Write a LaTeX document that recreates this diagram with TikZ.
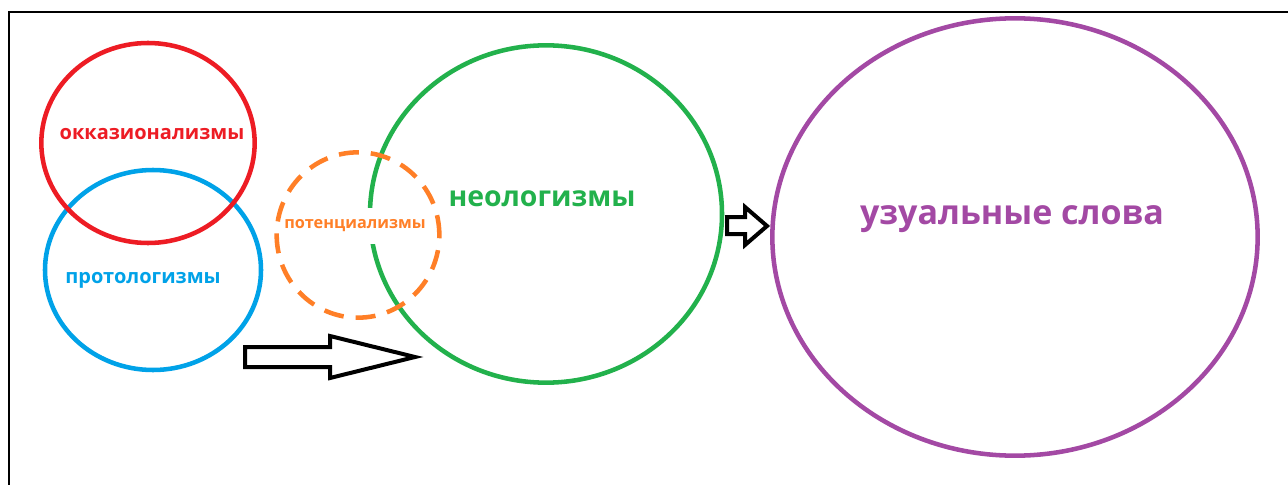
\documentclass[tikz,border=0pt]{standalone}
\usepackage{fontspec}
\setmainfont{Open Sans}
\usetikzlibrary{shapes.geometric}
\definecolor{cred}{HTML}{ED1C24}
\definecolor{cblue}{HTML}{00A2E8}
\definecolor{corange}{HTML}{FF7F27}
\definecolor{cgreen}{HTML}{22B14C}
\definecolor{cpurple}{HTML}{A349A4}
\tikzset{
  ring/.style={ellipse, draw, line width=3.4pt, inner sep=0pt},
  lbl/.style={font=\bfseries, inner sep=0pt},
  blockarrow/.style={draw=black, line width=3pt, fill=white, line join=miter}
}
\begin{document}
\begin{tikzpicture}[x=0.75pt,y=-0.75pt]
\useasboundingbox (0,0) rectangle (1288,485);
\fill[white] (0,0) rectangle (1288,485);
\draw[line width=1.9pt] (9,486) -- (9,12) -- (1289,12);
% circles
\node[ring, draw=cblue, minimum width=162pt, minimum height=150pt] (proto) at (153,270) {};
\node[ring, draw=cred, minimum width=160pt, minimum height=150pt] (okk) at (148,143) {};
\node[ring, draw=cgreen, minimum width=264pt, minimum height=253pt] (neo) at (546,214) {};
\node[lbl, text=corange, fill=white, inner ysep=9pt, font=\bfseries\fontsize{12.2}{14}\selectfont] (pot) at (355,226) {потенциализмы};
\node[ring, draw=corange, dashed, dash pattern=on 15pt off 9pt, minimum width=122pt, minimum height=124pt] (potc) at (358,235) {};
\node[ring, draw=cpurple, minimum width=364pt, minimum height=328pt] (uzu) at (1015,237) {};
% labels
\node[lbl, text=cred, font=\bfseries\fontsize{15}{17}\selectfont] (okkl) at (152,134) {окказионализмы};
\node[lbl, text=cblue, font=\bfseries\fontsize{15}{17}\selectfont] (protol) at (143,280) {протологизмы};
\node[lbl, text=cgreen, font=\bfseries\fontsize{21.3}{24}\selectfont] (neol) at (542,199) {неологизмы};
\node[lbl, text=cpurple, font=\bfseries\fontsize{25.5}{30}\selectfont] (uzul) at (1012,219) {узуальные слова};
% arrows
\draw[blockarrow] (245,347) -- (330,347) -- (330,336) -- (415,357) -- (330,378) -- (330,367) -- (245,367) -- cycle;
\draw[blockarrow] (727,217) -- (745,217) -- (745,207) -- (767,226) -- (745,245) -- (745,234) -- (727,234) -- cycle;
\end{tikzpicture}
\end{document}
